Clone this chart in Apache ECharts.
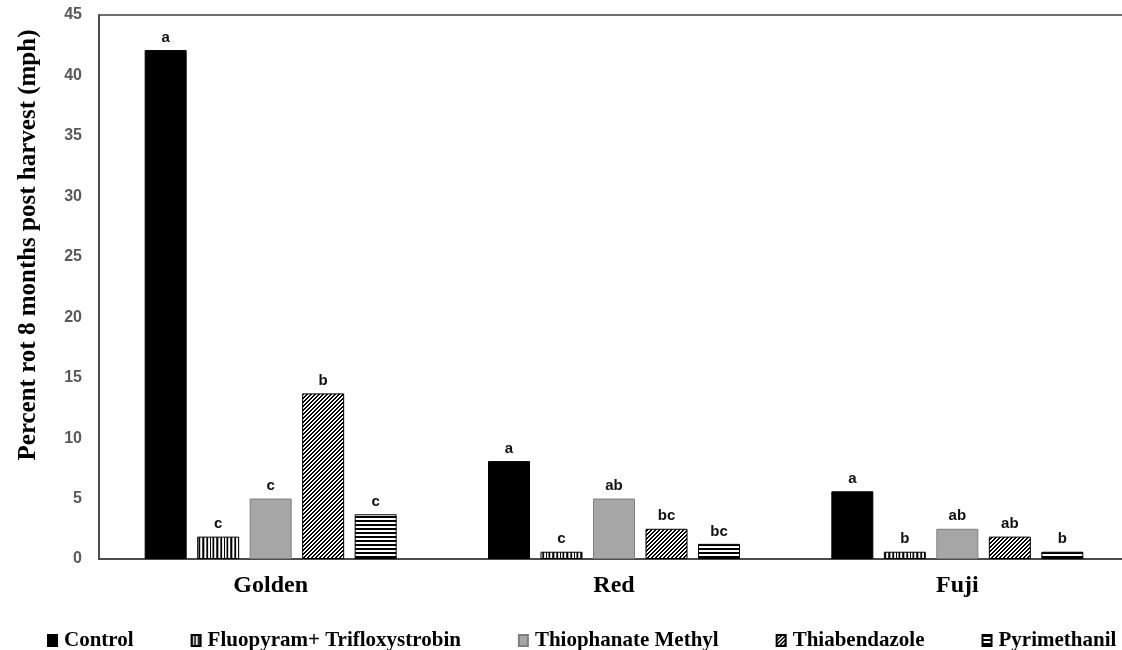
<!DOCTYPE html>
<html>
<head>
<meta charset="utf-8">
<script src="https://cdn.jsdelivr.net/npm/echarts@6/dist/echarts.min.js"></script>
<style>
html,body{margin:0;padding:0;background:#fff;}
#chart{width:1122px;height:650px;}
</style>
</head>
<body>
<div id="chart"></div>
<script>
// ---- data ----
var categories = ['Golden', 'Red', 'Fuji'];
var seriesNames = ['Control', 'Fluopyram+ Trifloxystrobin', 'Thiophanate Methyl', 'Thiabendazole', 'Pyrimethanil'];
var control = [42.1, 8.1, 5.6];
var fluopyram = [1.85, 0.6, 0.6];
var thiophanate = [5.0, 5.0, 2.5];
var thiabendazole = [13.7, 2.5, 1.85];
var pyrimethanil = [3.7, 1.25, 0.6];
var controlLetters = ['a', 'a', 'a'];
var fluopyramLetters = ['c', 'c', 'b'];
var thiophanateLetters = ['c', 'ab', 'ab'];
var thiabendazoleLetters = ['b', 'bc', 'ab'];
var pyrimethanilLetters = ['c', 'bc', 'b'];
var yTicks = {min: 0, max: 45, interval: 5};
var yTitle = 'Percent rot 8 months post harvest (mph)';

// ---- patterns ----
function makeCanvas(w, h, draw) {
  var c = document.createElement('canvas');
  c.width = w; c.height = h;
  var ctx = c.getContext('2d');
  ctx.fillStyle = '#fff'; ctx.fillRect(0, 0, w, h);
  draw(ctx);
  return c;
}
var vertCols = ['#000', '#fff', '#7a7a7a', '#000', '#c8c8c8', '#fff', '#3c3c3c', '#000', '#a8a8a8', '#fff', '#5a5a5a', '#000', '#e0e0e0', '#fff'];
var vertCanvas = makeCanvas(vertCols.length, 4, function (ctx) {
  vertCols.forEach(function (col, i) { ctx.fillStyle = col; ctx.fillRect(i, 0, 1, 4); });
});
var diagCanvas = makeCanvas(4, 4, function (ctx) {
  ctx.fillStyle = '#000';
  for (var x = 0; x < 4; x++) for (var y = 0; y < 4; y++) {
    if ((x + y) % 4 < 2) ctx.fillRect(x, y, 1, 1);
  }
});
var horzCanvas = makeCanvas(4, 4, function (ctx) {
  ctx.fillStyle = '#000';
  ctx.fillRect(0, 0, 4, 2);
});

var fills = [
  '#000000',
  {image: vertCanvas, repeat: 'repeat'},
  '#a6a6a6',
  {image: diagCanvas, repeat: 'repeat'},
  {image: horzCanvas, repeat: 'repeat'}
];
var borders = ['#000000', '#000000', '#7f7f7f', '#000000', '#000000'];
var values = [control, fluopyram, thiophanate, thiabendazole, pyrimethanil];
var letters = [controlLetters, fluopyramLetters, thiophanateLetters, thiabendazoleLetters, pyrimethanilLetters];

var series = seriesNames.map(function (name, i) {
  return {
    name: name,
    type: 'bar',
    data: values[i],
    barWidth: 42,
    barGap: '25%',
    itemStyle: {color: fills[i], borderColor: borders[i], borderWidth: 1},
    label: {
      show: true,
      position: 'top',
      distance: 5,
      color: '#111',
      fontFamily: 'Liberation Sans',
      fontWeight: 'bold',
      fontSize: 15,
      formatter: function (p) { return letters[i][p.dataIndex]; }
    }
  };
});

var chart = echarts.init(document.getElementById('chart'), null, {renderer: 'canvas'});
chart.setOption({
  animation: false,
  backgroundColor: '#fff',
  grid: {left: 99, right: -7, top: 15, bottom: 91, outerBoundsMode: 'none', containLabel: false, show: true, borderColor: '#404040', borderWidth: 1.5, backgroundColor: 'transparent'},
  legend: {
    left: 42, top: 625, width: 1100,
    icon: 'rect',
    itemWidth: 9, itemHeight: 11,
    itemGap: 57,
    textStyle: {fontFamily: 'Liberation Serif', fontWeight: 'bold', fontSize: 21, color: '#000', padding: [0, 0, 0, 2]},
    data: seriesNames
  },
  xAxis: {
    type: 'category',
    data: categories,
    axisLine: {lineStyle: {color: '#404040', width: 1.5}},
    axisTick: {show: false},
    axisLabel: {fontFamily: 'Liberation Serif', fontWeight: 'bold', fontSize: 24, color: '#000', margin: 15}
  },
  yAxis: {
    type: 'value',
    min: yTicks.min, max: yTicks.max, interval: yTicks.interval,
    axisLine: {show: true, lineStyle: {color: '#404040', width: 1.5}},
    axisTick: {show: false},
    splitLine: {show: false},
    axisLabel: {fontFamily: 'Liberation Sans', fontWeight: 'bold', fontSize: 16, color: '#595959', margin: 17}
  },
  graphic: [{
    type: 'text',
    x: 29, y: 245,
    rotation: Math.PI / 2,
    style: {
      text: yTitle,
      fontFamily: 'Liberation Serif', fontWeight: 'bold', fontSize: 25, fill: '#000',
      textAlign: 'center', textVerticalAlign: 'middle'
    }
  }],
  series: series
});
</script>
</body>
</html>
